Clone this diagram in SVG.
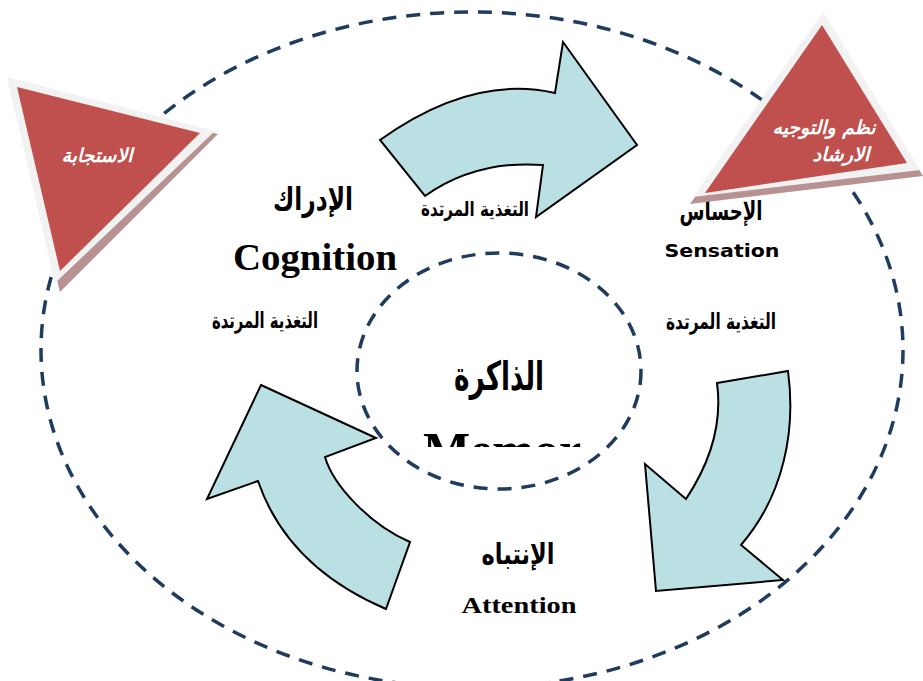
<svg xmlns="http://www.w3.org/2000/svg" width="923" height="681" viewBox="0 0 923 681">
<defs>
<style>
.dash{fill:none;stroke:#1F3B5E;stroke-width:3.5;stroke-dasharray:14 10}
.arrow{fill:#BAE0E4;stroke:#000;stroke-width:2;stroke-linejoin:miter}
.tri-out{fill:#F2F2F2}
.tri-sh{fill:#B89292}
.tri-in{fill:#C0504D}
.ar{font-family:"DejaVu Sans","Noto Sans",sans-serif;font-weight:bold;fill:#000;text-anchor:middle}
.arw{font-family:"DejaVu Sans","Noto Sans",sans-serif;font-weight:bold;font-style:italic;fill:#fff;text-anchor:middle}
.en{font-family:"Liberation Serif","DejaVu Serif",serif;font-weight:bold;fill:#000;text-anchor:middle}
.ens{font-family:"DejaVu Sans","Liberation Sans",sans-serif;font-weight:bold;fill:#000;text-anchor:middle}
</style>
<clipPath id="memclip"><rect x="380" y="400" width="260" height="47"/></clipPath>
</defs>

<g id="outer-cycle">
<ellipse class="dash" cx="472" cy="350" rx="431" ry="338"/>
</g>

<g id="memory">
<ellipse class="dash" cx="499" cy="371" rx="142" ry="118"/>
<text class="ar" x="499" y="390" font-size="40" textLength="90" lengthAdjust="spacingAndGlyphs">الذاكرة</text>
<text class="en" x="502" y="467" font-size="50" clip-path="url(#memclip)">Memor</text>
</g>

<g id="connectors">
<path id="arrow-top" class="arrow" d="M380,140 Q472,74 555,93 L563,42 L637,145 L536,217 L543,165 Q476,160 425,196 Z"/>
<path id="arrow-right" class="arrow" d="M717,383 L788,371 C796,430 784,495 741,545 L783,580 L656,591 L645,464 L686,499 C712,460 722,420 717,383 Z"/>
<path id="arrow-left" class="arrow" d="M261,385 L376,438 L325,457 C333,485 370,525 410,542 L386,609 C330,585 280,545 258,481 L207,499 Z"/>
</g>

<g id="feedback-labels">
<text class="ar" x="475" y="216" font-size="20" textLength="108" lengthAdjust="spacingAndGlyphs">التغذية المرتدة</text>
<text class="ar" x="265" y="328" font-size="22" textLength="106" lengthAdjust="spacingAndGlyphs">التغذية المرتدة</text>
<text class="ar" x="721" y="329" font-size="22" textLength="110" lengthAdjust="spacingAndGlyphs">التغذية المرتدة</text>
</g>

<g id="cognition">
<text class="ar" x="313" y="210" font-size="32" textLength="80" lengthAdjust="spacingAndGlyphs">الإدراك</text>
<text class="en" x="315" y="270" font-size="37" textLength="164" lengthAdjust="spacingAndGlyphs">Cognition</text>
</g>

<g id="sensation">
<text class="ar" x="721" y="220" font-size="26" textLength="83" lengthAdjust="spacingAndGlyphs">الإحساس</text>
<text class="ens" x="722" y="257" font-size="18" textLength="115" lengthAdjust="spacingAndGlyphs">Sensation</text>
</g>

<g id="attention">
<text class="ar" x="518" y="564" font-size="29" textLength="73" lengthAdjust="spacingAndGlyphs">الإنتباه</text>
<text class="en" x="519" y="613" font-size="23" textLength="115" lengthAdjust="spacingAndGlyphs">Attention</text>
</g>

<g id="response">
<polygon class="tri-sh" points="9,85 218,134 60,292"/>
<polygon class="tri-out" points="7,77 215,131 55,283"/>
<polygon class="tri-in" points="17,87 200,133 60,271"/>
<text class="arw" x="97" y="162" font-size="19" textLength="71" lengthAdjust="spacingAndGlyphs">الاستجابة</text>
</g>

<g id="guidance">
<polygon class="tri-sh" points="823,16 923,176 690,204"/>
<polygon class="tri-out" points="823,12 920,170 693,197"/>
<polygon class="tri-in" points="822,25 907,163 705,193"/>
<text class="arw" x="824" y="134" font-size="19" textLength="103" lengthAdjust="spacingAndGlyphs">نظم والتوجيه</text>
<text class="arw" x="841" y="161" font-size="19" textLength="57" lengthAdjust="spacingAndGlyphs">الارشاد</text>
</g>
</svg>
